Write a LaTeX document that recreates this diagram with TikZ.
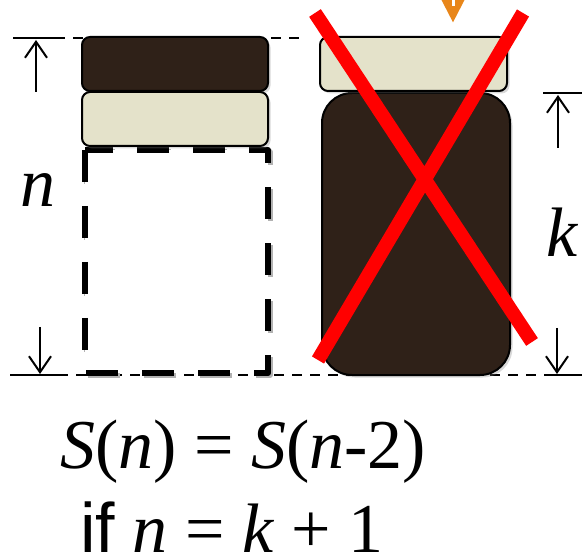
\documentclass[tikz,border=0pt]{standalone}
\usepackage{fontspec}
\setmainfont{Liberation Serif}
\newfontfamily\condsans{Liberation Sans}
\usetikzlibrary{arrows.meta,shadows}
\definecolor{jarbrown}{HTML}{2F2118}
\definecolor{lidcream}{HTML}{E4E2CA}
\definecolor{crossred}{HTML}{FF0000}
\definecolor{hintorange}{HTML}{E8861A}
\begin{document}
\begin{tikzpicture}[x=1pt, y=-1pt, line join=round,
	part/.style={draw=black, line width=2pt, rounded corners=8pt, drop shadow={shadow xshift=2.5pt, shadow yshift=-2.5pt, opacity=0.3}},
	dim/.style={line width=2pt, -{Straight Barb[length=16pt, width=22pt, line width=2pt]}},
	guide/.style={line width=2pt, dash pattern=on 10pt off 8pt},
	big/.style={font=\fontsize{70}{72}\selectfont, inner sep=0pt, text depth=0pt}]
			\useasboundingbox (0,0) rectangle (582,559);
			% guide lines
			\draw[line width=2pt] (13,38)--(55,38) (10,375)--(58,375) (547,375)--(582,375) (543,93)--(582,93);
			\draw[guide] (55,38)--(305,38);
			\draw[guide] (58,375)--(547,375);
			% left jar
			\draw[line width=6pt, dash pattern=on 32pt off 24pt, black!30, xshift=2pt, yshift=-2pt] (85,150) rectangle (268,373);
			\draw[line width=6pt, dash pattern=on 32pt off 24pt, fill=white] (85,150) rectangle (268,373);
			\draw[part, fill=jarbrown] (82,37) rectangle (268,91);
			\draw[part, fill=lidcream] (82,92) rectangle (268,146);
			% right jar
			\draw[part, fill=jarbrown, rounded corners=30pt] (322,93) rectangle (510,375);
			\draw[part, fill=lidcream] (320,37) rectangle (507,91);
			\draw[crossred, line width=14pt] (315,13)--(532,342) (523,13)--(318,360);
			\draw[hintorange, line width=9pt, -{Triangle[length=26pt, width=24pt]}] (453,-12)--(453,23);
			\draw[white, line width=3pt] (453,-1)--(453,6);
			% sizes
			\draw[dim] (36,92)--(36,40);
			\draw[dim] (40,327)--(40,374);
			\draw[dim] (558,148)--(558,95);
			\draw[dim] (557,328)--(557,374);
			\node[big, anchor=base] (nlab) at (38,207) {\textit{n}};
			\node[big, anchor=base] (klab) at (563,257) {\textit{k}};
			\node[big, anchor=base west] (rule) at (60,468) {\textit{S}(\textit{n}) = \textit{S}(\textit{n}-2)};
			\node[big, anchor=base west] (cond) at (80,552) {{\condsans if} \textit{n} = \textit{k} + 1};
		\end{tikzpicture}
\end{document}
